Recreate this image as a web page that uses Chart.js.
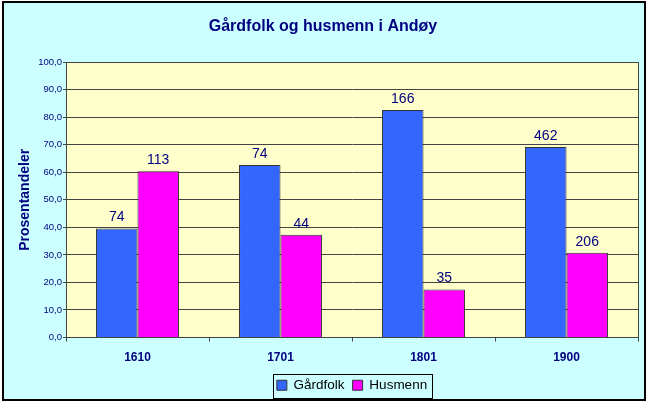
<!DOCTYPE html>
<html>
<head>
<meta charset="utf-8">
<script src="https://cdn.jsdelivr.net/npm/chart.js@4.4.1/dist/chart.umd.min.js"></script>
<style>
  html, body { margin: 0; padding: 0; background: #ffffff; }
  canvas { display: block; }
</style>
</head>
<body>
<canvas id="c" width="650" height="405"></canvas>
<script>
const categories = ['1610', '1701', '1801', '1900'];
const gardfolkPct = [39.6, 62.7, 82.6, 69.2];
const husmennPct = [60.4, 37.3, 17.4, 30.8];
const gardfolkCount = [74, 74, 166, 462];
const husmennCount = [113, 44, 35, 206];
const yTicks = [0, 10, 20, 30, 40, 50, 60, 70, 80, 90, 100];

const NAVY = '#000080';
const FONT = "'Liberation Sans', Arial, sans-serif";

const framePlugin = {
  id: 'frame',
  beforeDraw(chart) {
    const ctx = chart.ctx;
    const a = chart.chartArea;
    ctx.save();
    ctx.fillStyle = '#ffffff';
    ctx.fillRect(0, 0, chart.width, chart.height);
    ctx.fillStyle = '#CCFFFF';
    ctx.fillRect(3, 2, 642, 398);
    ctx.lineWidth = 2;
    ctx.strokeStyle = '#000000';
    ctx.strokeRect(3, 2, 642, 398);
    ctx.fillStyle = '#FFFFCC';
    ctx.fillRect(a.left, a.top, a.right - a.left, a.bottom - a.top);
    ctx.restore();
  },
  afterDraw(chart) {
    const ctx = chart.ctx;
    const a = chart.chartArea;
    ctx.save();
    ctx.strokeStyle = '#444444';
    ctx.lineWidth = 1;
    ctx.strokeRect(Math.round(a.left) + 0.5, Math.round(a.top) + 0.5,
                   Math.round(a.right - a.left), Math.round(a.bottom - a.top));
    const lg = chart.legend;
    if (lg && lg.legendHitBoxes && lg.legendHitBoxes.length) {
      const hb = lg.legendHitBoxes;
      let l = Infinity, r = -Infinity, t = Infinity, b = -Infinity;
      hb.forEach(h => {
        l = Math.min(l, h.left); r = Math.max(r, h.left + h.width);
        t = Math.min(t, h.top); b = Math.max(b, h.top + h.height);
      });
      ctx.strokeStyle = '#000000';
      ctx.lineWidth = 1;
      ctx.strokeRect(Math.round(l - 4) + 0.5, Math.round(t - 5) + 0.5,
                     Math.round(r - l + 9), Math.round(b - t + 10));
    }
    ctx.restore();
  }
};

const labelsPlugin = {
  id: 'barLabels',
  afterDatasetsDraw(chart) {
    const ctx = chart.ctx;
    const sources = [gardfolkCount, husmennCount];
    ctx.save();
    ctx.font = '14px ' + FONT;
    ctx.fillStyle = NAVY;
    ctx.textAlign = 'center';
    ctx.textBaseline = 'bottom';
    chart.data.datasets.forEach((ds, di) => {
      const meta = chart.getDatasetMeta(di);
      meta.data.forEach((bar, i) => {
        ctx.fillText(String(sources[di][i]), bar.x, bar.y - 4);
      });
    });
    ctx.restore();
  }
};

new Chart(document.getElementById('c'), {
  type: 'bar',
  data: {
    labels: categories,
    datasets: [
      {
        label: 'Gårdfolk',
        data: gardfolkPct,
        backgroundColor: '#3366FF',
        borderColor: '#333333',
        borderWidth: 1,
        categoryPercentage: 0.58,
        barPercentage: 1.0
      },
      {
        label: 'Husmenn',
        data: husmennPct,
        backgroundColor: '#FF00FF',
        borderColor: '#333333',
        borderWidth: 1,
        categoryPercentage: 0.58,
        barPercentage: 1.0
      }
    ]
  },
  options: {
    responsive: false,
    animation: false,
    devicePixelRatio: 1,
    layout: { padding: { left: 8, right: 12, top: 0, bottom: 3 } },
    plugins: {
      title: {
        display: true,
        text: 'Gårdfolk og husmenn i Andøy',
        color: NAVY,
        font: { family: FONT, size: 16, weight: 'bold' },
        padding: { top: 17, bottom: 26 }
      },
      legend: {
        position: 'bottom',
        fullSize: false,
        labels: {
          color: '#000000',
          font: { family: FONT, size: 13.5 },
          boxWidth: 10,
          boxHeight: 10,
          padding: 8
        }
      },
      tooltip: { enabled: false }
    },
    scales: {
      x: {
        grid: { offset: true, drawOnChartArea: false, drawTicks: true, tickLength: 4, color: '#444444' },
        border: { color: '#444444' },
        ticks: {
          color: NAVY,
          font: { family: FONT, size: 12, weight: 'bold' },
          padding: 9
        },
        afterFit(scale) { scale.height = 33; }
      },
      y: {
        min: 0,
        max: 100,
        afterBuildTicks(scale) { scale.ticks = yTicks.map(v => ({ value: v })); },
        grid: { color: '#444444', tickLength: 3, drawTicks: true },
        border: { color: '#444444' },
        ticks: {
          color: NAVY,
          font: { family: FONT, size: 9.5 },
          padding: 1,
          callback: v => Number(v).toFixed(1).replace('.', ',')
        },
        title: {
          display: true,
          text: 'Prosentandeler',
          color: NAVY,
          font: { family: FONT, size: 14, weight: 'bold' },
          padding: { top: 9, bottom: 0 }
        },
        afterFit(scale) { scale.width = 58; }
      }
    }
  },
  plugins: [framePlugin, labelsPlugin]
});
</script>
</body>
</html>
